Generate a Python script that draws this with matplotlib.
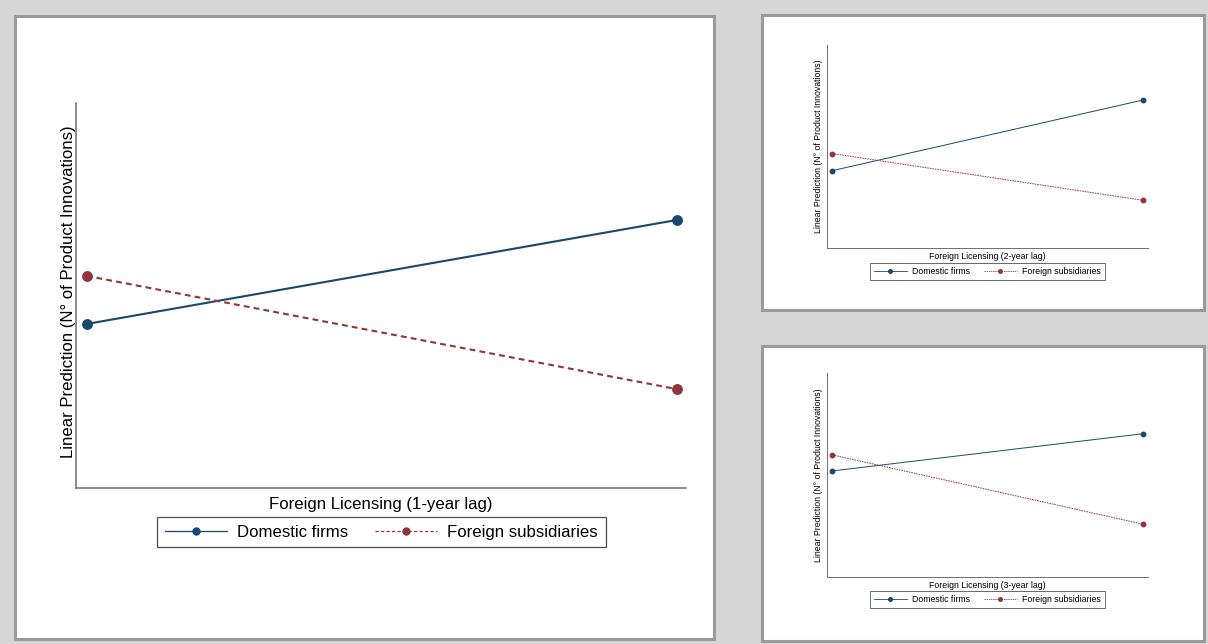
import matplotlib

matplotlib.use("Agg")
import matplotlib.pyplot as plt
from matplotlib.lines import Line2D
from matplotlib.patches import Rectangle

# predicted number of product innovations at low / high foreign licensing
X_LEVELS = [0, 1]
SERIES_NAMES = ["Domestic firms", "Foreign subsidiaries"]
X_LABELS = [
    "Foreign Licensing (1-year lag)",
    "Foreign Licensing (2-year lag)",
    "Foreign Licensing (3-year lag)",
]
Y_LABEL = "Linear Prediction (N\u00b0 of Product Innovations)"
DOMESTIC_1 = [0.426, 0.696]
FOREIGN_1 = [0.551, 0.257]
DOMESTIC_2 = [0.381, 0.729]
FOREIGN_2 = [0.465, 0.235]
DOMESTIC_3 = [0.520, 0.703]
FOREIGN_3 = [0.599, 0.258]

NAVY = "#1a476f"
MAROON = "#90353b"
W, H = 1208, 644

plt.rcParams["font.family"] = ["Liberation Sans", "DejaVu Sans"]


def frac(x0, y0, x1, y1):
    # pixel box (top-left origin) -> figure fraction rect
    return [x0 / W, 1 - y1 / H, (x1 - x0) / W, (y1 - y0) / H]


def panel(fig, box):
    l, b, w, h = frac(*box)
    fig.patches.append(Rectangle((l, b), w, h, transform=fig.transFigure,
                                 facecolor="white", edgecolor="#9a9a9a",
                                 linewidth=2.2, zorder=-5))


def draw(fig, box, domestic, foreign, xlabel, big, legend_top, legend_x):
    ax = fig.add_axes(frac(*box))
    ax.set_facecolor("none")
    if big:
        lw, ms, fs, dash = 1.5, 6.8, 12.1, (0, (2.8, 2.0))
        leg_lw, leg_ms, leg_dash = 0.9, 5.0, (0, (2.6, 1.8))
    else:
        lw, ms, fs, dash = 0.7, 3.2, 6.35, (0, (1.6, 1.0))
        leg_lw, leg_ms, leg_dash = 0.6, 2.6, (0, (1.6, 1.0))
    ax.plot(X_LEVELS, domestic, color=NAVY, lw=lw, marker="o", ms=ms)
    ax.plot(X_LEVELS, foreign, color=MAROON, lw=lw, ls=dash, marker="o",
            ms=ms)
    ax.set_xlim(-0.018, 1.016)
    ax.set_ylim(0, 1)
    ax.set_xticks([])
    ax.set_yticks([])
    for side in ("top", "right"):
        ax.spines[side].set_visible(False)
    for side in ("left", "bottom"):
        ax.spines[side].set_color("#6e6e6e")
        ax.spines[side].set_linewidth(1.1 if big else 0.7)
    ax.set_xlabel(xlabel, fontsize=fs, color="black")
    ax.xaxis.set_label_coords(0.5, -0.044)
    ax.xaxis.label.set_va("center")
    ax.set_ylabel(Y_LABEL, fontsize=fs, color="black")
    ax.yaxis.set_label_coords(-0.013 if big else -0.024, 0.51 if big else 0.5)
    ax.yaxis.label.set_va("center")
    handles = [
        Line2D([], [], color=NAVY, lw=leg_lw, marker="o", ms=leg_ms),
        Line2D([], [], color=MAROON, lw=leg_lw, ls=leg_dash, marker="o",
               ms=leg_ms),
    ]
    leg = fig.legend(handles=handles, labels=SERIES_NAMES, ncol=2,
                     loc="upper center",
                     bbox_to_anchor=(legend_x / W, 1 - legend_top / H),
                     fontsize=fs, frameon=True, fancybox=False,
                     edgecolor="#222222", handlelength=3.7,
                     columnspacing=1.6, borderpad=0.45, handletextpad=0.6,
                     borderaxespad=0)
    leg.get_frame().set_linewidth(0.9 if big else 0.6)
    return ax


fig = plt.figure(figsize=(W / 100, H / 100), dpi=100, facecolor="#d6d6d6")

panel(fig, (15, 16, 714, 639))
panel(fig, (762, 15, 1204, 310))
panel(fig, (762, 346, 1204, 641))

draw(fig, (76, 103, 686, 488), DOMESTIC_1, FOREIGN_1, X_LABELS[0],
     True, 517, 381.5)
draw(fig, (826.7, 45, 1148, 248), DOMESTIC_2, FOREIGN_2, X_LABELS[1],
     False, 262.7, 987.5)
draw(fig, (826.7, 373.3, 1148, 576.7), DOMESTIC_3, FOREIGN_3, X_LABELS[2],
     False, 590.7, 987.5)

fig.savefig("out.png", dpi=100, facecolor=fig.get_facecolor())
